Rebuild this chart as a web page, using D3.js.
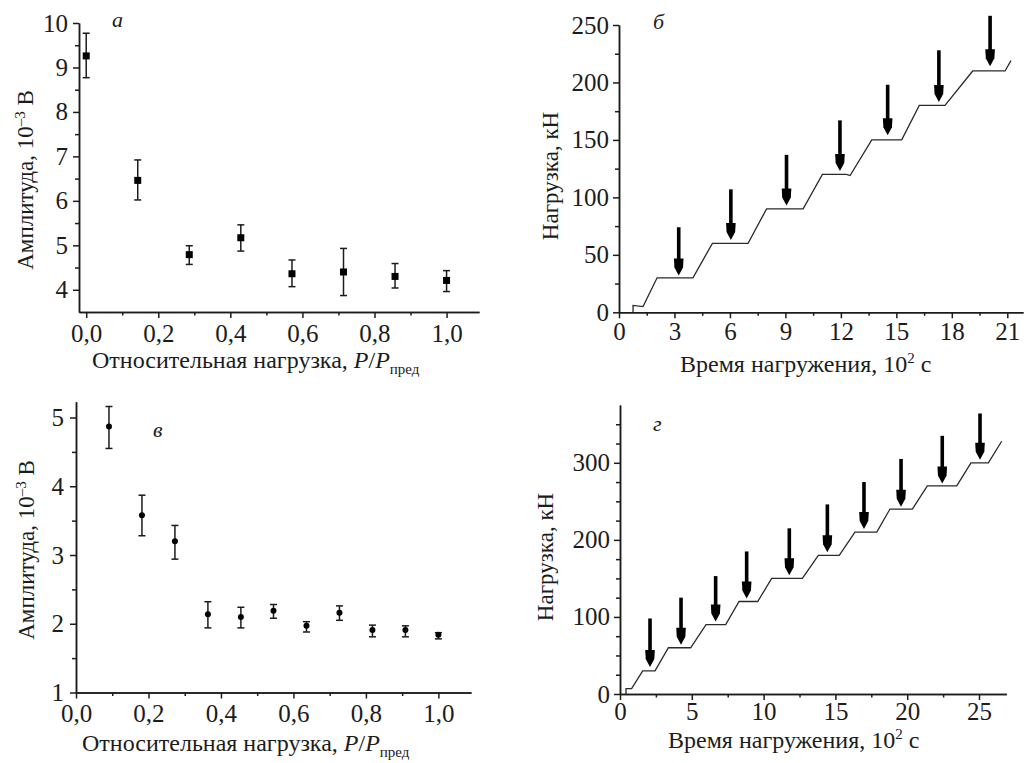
<!DOCTYPE html>
<html><head><meta charset="utf-8">
<script src="https://cdn.jsdelivr.net/npm/d3@7"></script>
<style>
body{margin:0;background:#fff}
svg{display:block}
</style>
</head><body>
<svg id="c" width="1024" height="763"></svg>
<script>
// ---- Panel а : amplitude vs relative load (squares)
const aLoad = [0, 0.143, 0.286, 0.429, 0.571, 0.714, 0.857, 1.0];
const aAmp  = [9.26, 6.46, 4.79, 5.17, 4.36, 4.40, 4.30, 4.21];
const aLow  = [8.77, 6.02, 4.57, 4.87, 4.07, 3.87, 4.04, 3.96];
const aHigh = [9.77, 6.92, 4.99, 5.46, 4.67, 4.93, 4.59, 4.43];
const aXTicks = [0, 0.2, 0.4, 0.6, 0.8, 1.0];
const aYTicks = [4, 5, 6, 7, 8, 9, 10];

// ---- Panel б : load vs time, step loading
const bTime = [0.76, 0.76, 1.3, 2.06, 4.0, 5.05, 6.98, 7.98, 9.96, 11.0, 12.3, 12.5, 13.67, 15.29, 16.24, 17.63, 19.13, 20.88, 21.2];
const bLoad = [0, 6, 5, 30, 30, 60, 60, 90, 90, 120, 120, 119, 150, 150, 180, 180, 210, 210, 219];
const bArrowX   = [3.23, 6.05, 9.06, 11.95, 14.53, 17.3, 20.07];
const bArrowTop = [74, 107, 137, 167, 198, 228, 258];
const bArrowTip = [32, 63, 93, 123, 154, 183, 214];
const bXTicks = [0, 3, 6, 9, 12, 15, 18, 21];
const bYTicks = [0, 50, 100, 150, 200, 250];

// ---- Panel в : amplitude vs relative load (dots)
const vLoad = [0.091, 0.182, 0.273, 0.364, 0.455, 0.545, 0.636, 0.727, 0.818, 0.909, 1.0];
const vAmp  = [4.87, 3.58, 3.20, 2.14, 2.10, 2.19, 1.97, 2.16, 1.91, 1.91, 1.84];
const vLow  = [4.55, 3.28, 2.94, 1.94, 1.94, 2.08, 1.88, 2.05, 1.81, 1.81, 1.78];
const vHigh = [5.16, 3.87, 3.43, 2.32, 2.24, 2.28, 2.03, 2.26, 1.98, 1.97, 1.87];
const vXTicks = [0, 0.2, 0.4, 0.6, 0.8, 1.0];
const vYTicks = [1, 2, 3, 4, 5];

// ---- Panel г : load vs time, step loading
const gTime = [0.42, 0.42, 0.81, 1.58, 2.44, 3.37, 4.92, 5.99, 7.36, 8.29, 9.59, 10.56, 12.7, 13.81, 15.27, 16.36, 17.88, 18.8, 20.36, 21.4, 23.45, 24.44, 25.65, 26.58];
const gLoad = [0, 7, 7, 30, 30, 60, 60, 90, 90, 120, 120, 150, 150, 180, 180, 210, 210, 240, 240, 270, 270, 300, 300, 328];
const gArrowX   = [2.09, 4.25, 6.66, 8.82, 11.79, 14.44, 16.99, 19.57, 22.44, 25.07];
const gArrowTop = [98, 125, 153, 185, 215, 246, 275, 305, 335, 364];
const gArrowTip = [35, 64, 94, 124, 154, 184, 214, 243, 273, 304];
const gXTicks = [0, 5, 10, 15, 20, 25];
const gYTicks = [0, 100, 200, 300];

const INK = "#1c1c1c";
const FONT = "'Liberation Serif', 'Times New Roman', Times, 'DejaVu Serif', serif";
const TICKFS = 25, TITLEFS = 24, YTITLEFS = 23;
const svg = d3.select("#c").attr("font-family", FONT).style("font-family", FONT);
svg.append("rect").attr("width",1024).attr("height",763).attr("fill","#fff");

const commaFmt = d => d3.format(".1f")(d).replace(".", ",");

function range(a, b, s){ const r=[]; for(let v=a; v<=b+1e-9; v+=s) r.push(+v.toFixed(4)); return r; }

function drawAxes(x, y, o){
  const [x0, x1] = x.range(), [y0, y1] = y.range();
  const gxm = svg.append("g").attr("transform",`translate(0,${y0})`)
    .call(d3.axisBottom(x).tickValues(o.xMinor).tickSize(3.5).tickSizeOuter(0).tickFormat(""));
  const gym = svg.append("g").attr("transform",`translate(${x0},0)`)
    .call(d3.axisLeft(y).tickValues(o.yMinor).tickSize(4).tickSizeOuter(0).tickFormat(""));
  const gx = svg.append("g").attr("transform",`translate(0,${y0})`)
    .call(d3.axisBottom(x).tickValues(o.xTicks).tickSize(6).tickSizeOuter(0).tickPadding(o.xPad).tickFormat(o.xFmt));
  const gy = svg.append("g").attr("transform",`translate(${x0},0)`)
    .call(d3.axisLeft(y).tickValues(o.yTicks).tickSize(6).tickSizeOuter(0).tickPadding(o.yPad).tickFormat(o.yFmt));
  [gxm, gym, gx, gy].forEach(g => {
    g.attr("font-family", FONT).attr("font-size", TICKFS);
    g.selectAll("path,line").attr("stroke", INK).attr("stroke-width", 1.5);
    g.selectAll("text").attr("fill", INK).attr("font-family", FONT).attr("font-size", TICKFS);
  });
}

function errPanel(x, y, xs, ys, lo, hi, marker){
  const g = svg.append("g");
  xs.forEach((xv, i) => {
    const cx = x(xv);
    g.append("line").attr("x1",cx).attr("x2",cx).attr("y1",y(lo[i])).attr("y2",y(hi[i])).attr("stroke",INK).attr("stroke-width",1.5);
    [lo[i], hi[i]].forEach(v => g.append("line").attr("x1",cx-3.5).attr("x2",cx+3.5).attr("y1",y(v)).attr("y2",y(v)).attr("stroke",INK).attr("stroke-width",1.5));
    if (marker === "square")
      g.append("rect").attr("x",cx-3.5).attr("y",y(ys[i])-3.5).attr("width",7).attr("height",7).attr("fill","#000");
    else
      g.append("circle").attr("cx",cx).attr("cy",y(ys[i])).attr("r",3).attr("fill","#000");
  });
}

function stepPanel(x, y, ts, ls, ax, atop, atip){
  const line = d3.line().x((d,i)=>x(ts[i])).y((d,i)=>y(ls[i]));
  svg.append("path").attr("d", line(ts)).attr("fill","none").attr("stroke","#2a2a2a").attr("stroke-width",1.3);
  ax.forEach((xv, i) => {
    const cx = x(xv), yt = y(atop[i]), yp = y(atip[i]);
    svg.append("line").attr("x1",cx).attr("x2",cx).attr("y1",yt).attr("y2",yp-12).attr("stroke","#000").attr("stroke-width",3.6);
    svg.append("path").attr("d",`M${cx-4.8},${yp-17} L${cx+4.8},${yp-17} L${cx+4.3},${yp-8} L${cx},${yp} L${cx-4.3},${yp-8} Z`).attr("fill","#000");
  });
}

function txt(sel){ return sel.attr("font-family", FONT).attr("fill", INK); }

function yTitle(xb, yc, parts){
  const t = txt(svg.append("text")).attr("transform",`translate(${xb},${yc}) rotate(-90)`).attr("text-anchor","middle").attr("font-size", YTITLEFS);
  parts(t);
}
function ampTitle(t){
  t.append("tspan").text("Амплитуда, 10");
  t.append("tspan").text("–3").attr("dy",-8).attr("font-size",15);
  t.append("tspan").text(" В").attr("dy",8);
}
function loadTitle(t){ t.append("tspan").text("Нагрузка, кН"); }
function relTitle(xs, yb){
  const t = txt(svg.append("text")).attr("x",xs).attr("y",yb).attr("font-size", TITLEFS);
  t.append("tspan").text("Относительная нагрузка,  ");
  t.append("tspan").text("P").attr("font-style","italic");
  t.append("tspan").text("/");
  t.append("tspan").text("P").attr("font-style","italic");
  t.append("tspan").text("пред").attr("dy",6).attr("font-size",15);
}
function timeTitle(xs, yb){
  const t = txt(svg.append("text")).attr("x",xs).attr("y",yb).attr("font-size", TITLEFS);
  t.append("tspan").text("Время нагружения, 10");
  t.append("tspan").text("2").attr("dy",-9).attr("font-size",15);
  t.append("tspan").text(" с").attr("dy",9);
}
function tag(xv, yv, s){
  txt(svg.append("text")).attr("x",xv).attr("y",yv).text(s).attr("font-size",22).attr("font-style","italic");
}

// ---- а
{
  const x = d3.scaleLinear().domain([-0.02, 1.09]).range([79, 479]);
  const y = d3.scaleLinear().domain([3.5, 10]).range([312, 23]);
  drawAxes(x, y, {xTicks:aXTicks, xMinor:range(0.1,0.9,0.2), yTicks:aYTicks, yMinor:range(4.5,9.5,1),
    xFmt:commaFmt, yFmt:d3.format("d"), xPad:6, yPad:5});
  errPanel(x, y, aLoad, aAmp, aLow, aHigh, "square");
  yTitle(33, 180, ampTitle);
  relTitle(92, 368);
  tag(112, 27, "а");
}
// ---- б
{
  const x = d3.scaleLinear().domain([0, 21.85]).range([619, 1023]);
  const y = d3.scaleLinear().domain([0, 250]).range([312.3, 25]);
  drawAxes(x, y, {xTicks:bXTicks, xMinor:range(1.5,19.5,3), yTicks:bYTicks, yMinor:range(25,225,50),
    xFmt:d3.format("d"), yFmt:d3.format("d"), xPad:4, yPad:4});
  stepPanel(x, y, bTime, bLoad, bArrowX, bArrowTop, bArrowTip);
  yTitle(558, 176, loadTitle);
  timeTitle(680, 372);
  tag(653, 29, "б");
}
// ---- в
{
  const x = d3.scaleLinear().domain([0, 1.09]).range([76, 471]);
  const y = d3.scaleLinear().domain([1, 5.23]).range([692.5, 401.7]);
  drawAxes(x, y, {xTicks:vXTicks, xMinor:range(0.1,0.9,0.2), yTicks:vYTicks, yMinor:range(1.5,4.5,1),
    xFmt:commaFmt, yFmt:d3.format("d"), xPad:6, yPad:6});
  errPanel(x, y, vLoad, vAmp, vLow, vHigh, "circle");
  yTitle(34, 550, ampTitle);
  relTitle(82, 751);
  tag(153, 437, "в");
}
// ---- г
{
  const x = d3.scaleLinear().domain([0, 26.9]).range([620, 1006.3]);
  const y = d3.scaleLinear().domain([0, 375]).range([694, 405]);
  drawAxes(x, y, {xTicks:gXTicks, xMinor:range(2.5,22.5,5), yTicks:gYTicks,
    yMinor:range(25,350,25).filter(v => v % 100 !== 0),
    xFmt:d3.format("d"), yFmt:d3.format("d"), xPad:2, yPad:4});
  stepPanel(x, y, gTime, gLoad, gArrowX, gArrowTop, gArrowTip);
  yTitle(553, 557, loadTitle);
  timeTitle(668, 748);
  tag(653, 431, "г");
}
</script>
</body></html>
